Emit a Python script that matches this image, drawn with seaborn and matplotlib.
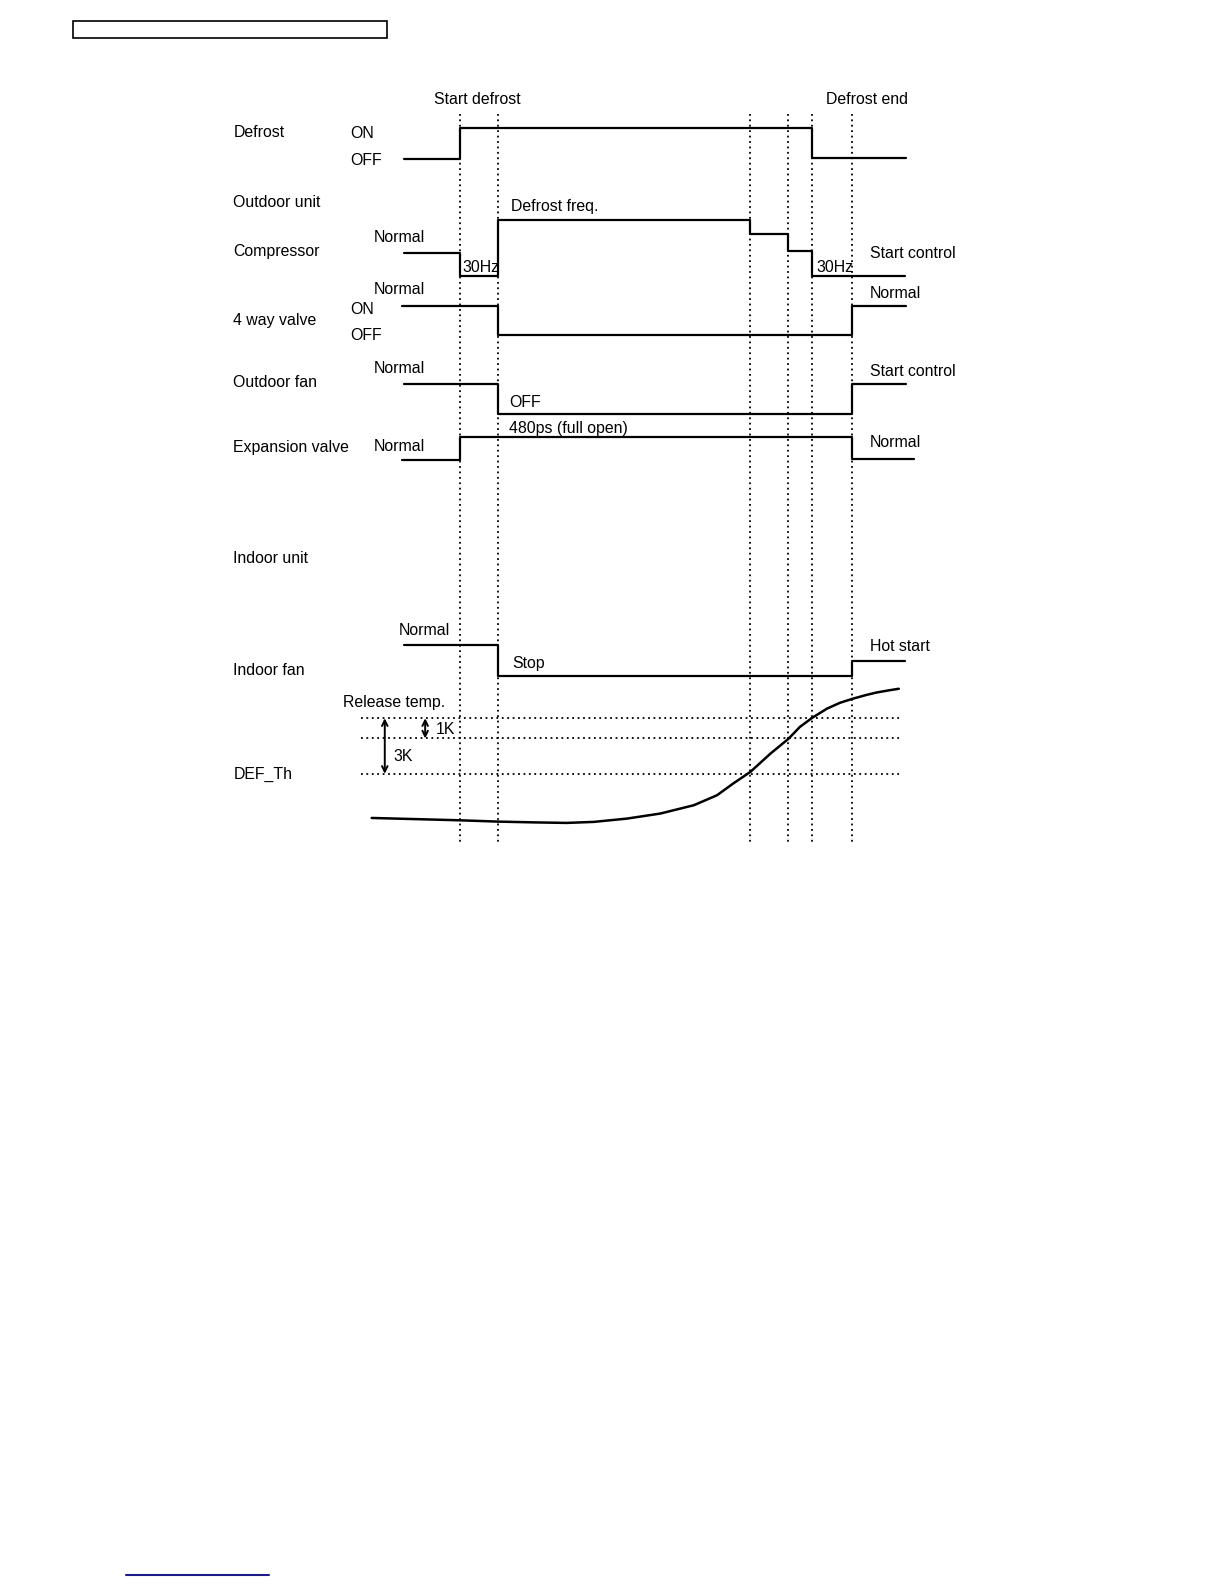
import matplotlib
matplotlib.use("Agg")
import matplotlib.pyplot as plt
import seaborn as sns
import pandas as pd

sns.set_style("white")
plt.rcParams['font.family'] = ['Liberation Sans', 'DejaVu Sans']

# event times (vertical dotted markers)
event_times = [455, 493, 743, 780, 804, 844]

# step signals: breakpoints and levels
defrost_t = [400, 455, 804, 897]
defrost_lvl = [157, 127, 156, 156]

compressor_t = [400, 455, 493, 743, 780, 804, 896]
compressor_lvl = [250, 273, 218, 232, 248, 273, 273]

valve4_t = [398, 493, 844, 897]
valve4_lvl = [303, 332, 303, 303]

outfan_t = [400, 493, 844, 897]
outfan_lvl = [380, 410, 380, 380]

expvalve_t = [398, 455, 844, 905]
expvalve_lvl = [455, 433, 454, 454]

infan_t = [400, 493, 844, 896]
infan_lvl = [638, 669, 654, 654]

# DEF_Th temperature curve
defth_t = [368, 410, 455, 493, 530, 561, 588, 621, 654, 687, 710, 726, 743,
           763, 781, 792, 804, 819, 832, 845, 858, 868, 880, 890]
defth_v = [809.7, 810.8, 812.0, 813.3, 814.1, 814.6, 813.6, 810.3, 805.3, 797.1,
           787.2, 775.6, 764.1, 745.9, 731.1, 719.6, 710.7, 701.4, 695.6, 691.5,
           687.9, 685.5, 683.4, 681.8]

# threshold levels: release temp, release-1K, DEF_Th (release-3K)
thresholds = [711, 731, 766]

labels = [
    ("Start defrost", 430, 98.5), ("Defrost end", 818, 98.5),
    ("Defrost", 231, 131.5), ("ON", 347, 132.5), ("OFF", 347, 158.5),
    ("Outdoor unit", 231, 200.5), ("Defrost freq.", 506, 204.5),
    ("Normal", 370, 235.5), ("Compressor", 231, 248.5), ("Start control", 861, 250.5),
    ("30Hz", 458, 265), ("30Hz", 808, 265),
    ("Normal", 370, 286.5), ("Normal", 861, 290.5), ("ON", 347, 306.5),
    ("4 way valve", 231, 317.5), ("OFF", 347, 332.5),
    ("Normal", 370, 364.5), ("Start control", 861, 367.5), ("Outdoor fan", 231, 378.5),
    ("OFF", 504, 398.5), ("480ps (full open)", 504, 424.5),
    ("Normal", 861, 438.5), ("Normal", 370, 441.5), ("Expansion valve", 231, 442.5),
    ("Indoor unit", 231, 552.5),
    ("Normal", 395, 624.5), ("Hot start", 861, 639.5), ("Stop", 507, 656.5),
    ("Indoor fan", 231, 663.5), ("Release temp.", 340, 695.5),
    ("1K", 431, 722), ("3K", 390, 749), ("DEF_Th", 231, 766.5),
]

fig = plt.figure(figsize=(12.24, 15.84), dpi=100)
ax = fig.add_axes([0, 0, 1, 1])

# header box
ax.add_patch(plt.Rectangle((72, 21), 311, 17, fill=False, lw=1.2, color='black'))

# vertical dotted event markers
for t in event_times:
    ax.plot([t, t], [113, 834], color='black', lw=1.3, ls=(0, (1, 2)))

# horizontal threshold lines
for y in thresholds:
    ax.plot([357, 892], [y, y], color='black', lw=1.3, ls=(0, (1, 2)))

signals = [(defrost_t, defrost_lvl), (compressor_t, compressor_lvl),
           (valve4_t, valve4_lvl), (outfan_t, outfan_lvl),
           (expvalve_t, expvalve_lvl), (infan_t, infan_lvl)]
for t, lvl in signals:
    df = pd.DataFrame({"t": t, "v": lvl})
    sns.lineplot(data=df, x="t", y="v", ax=ax, color='black', lw=1.6,
                 drawstyle='steps-post', estimator=None, sort=False)

curve = pd.DataFrame({"t": defth_t, "v": defth_v})
sns.lineplot(data=curve, x="t", y="v", ax=ax, color='black', lw=1.8,
             estimator=None, sort=False)

# 3K and 1K arrows
ax.annotate("", xy=(381, thresholds[0]), xytext=(381, thresholds[2]),
            arrowprops=dict(arrowstyle='<->', lw=1.4, color='black', shrinkA=0, shrinkB=0))
ax.annotate("", xy=(421, thresholds[0]), xytext=(421, thresholds[1]),
            arrowprops=dict(arrowstyle='<->', lw=1.4, color='black', shrinkA=0, shrinkB=0))

for txt, x, y in labels:
    ax.text(x, y, txt, fontsize=11.4, ha='left', va='center', color='black')

# footer link line
ax.plot([125, 266], [1559, 1559], color='#1c1c8a', lw=1.5)

ax.set_xlim(0, 1212)
ax.set_ylim(1568, 0)
ax.axis('off')

fig.savefig("out.png", dpi=100)
